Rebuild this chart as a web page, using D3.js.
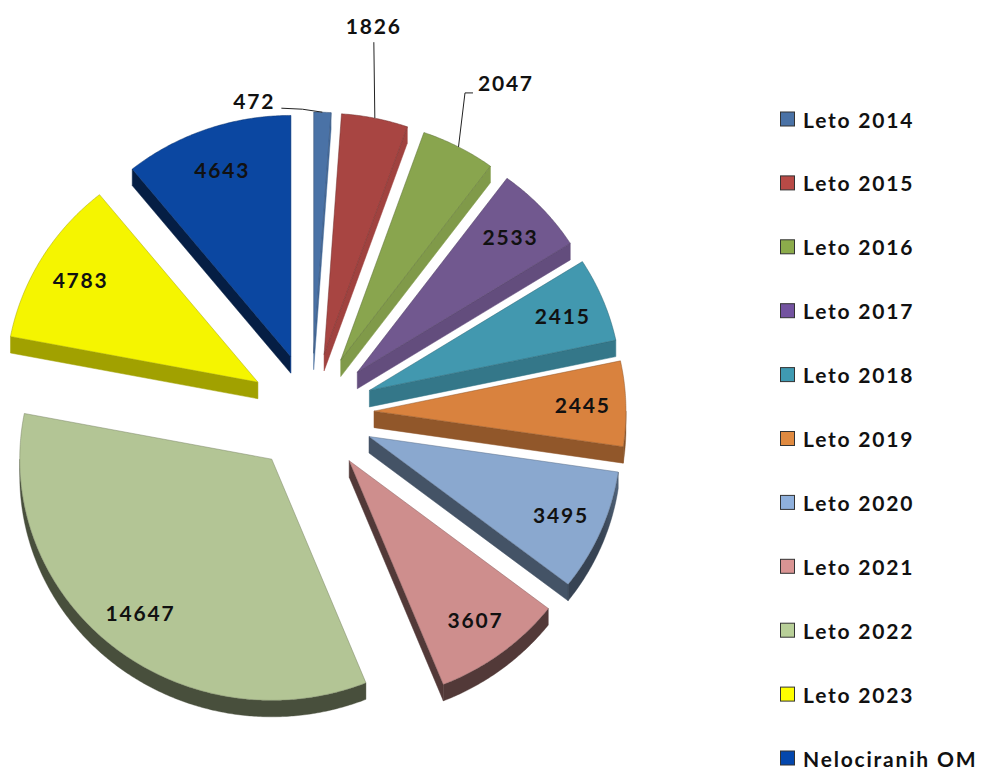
<!DOCTYPE html>
<html><head><meta charset="utf-8">
<script src="https://cdn.jsdelivr.net/npm/d3@7"></script>
<style>body{margin:0;background:#fff}svg{display:block}</style>
</head><body><svg id="c" width="982" height="769"></svg>
<script>
const categories = ["Leto 2014","Leto 2015","Leto 2016","Leto 2017","Leto 2018","Leto 2019","Leto 2020","Leto 2021","Leto 2022","Leto 2023","Nelociranih OM"];
const values = [472,1826,2047,2533,2415,2445,3495,3607,14647,4783,4643];
const colors = ["#4a72a6","#a84542","#89a54e","#71588f","#4298af","#d9823e","#8aa8cf","#ce8e8d","#b3c595","#f5f500","#0b47a1"];
const legendColors = ["#4a72a6","#b84a46","#8cab4b","#7353a0","#3f9ab2","#e08a40","#8fb0dc","#d99493","#b8cf98","#ffff00","#0447ad"];

const svg = d3.select("#c");
const defs = svg.append("defs");
const cx = 311.5, cy = 413, R = 252, S = 0.957, EXP = 62.5, DEPTH = 16.5;
const FONT = "Lato, 'Open Sans', sans-serif";
const LS = 1.8;
const DEG = Math.PI / 180;

const arcs = d3.pie().sort(null).value(d => d)(values);
const rScale = d3.scaleLinear().domain([0, 1]).range([0, R]);

function pt(a, rr, ex, ey, z) {
  return [cx + ex + rr * Math.sin(a), cy + ey - rr * S * Math.cos(a) + (z || 0)];
}
function mul(col, f) {
  const c = d3.rgb(col);
  return d3.rgb(c.r * f, c.g * f, c.b * f).formatHex();
}
// radial walls: lighter when facing right, dark when facing lower-left
function shadeSide(col, phi) {
  return mul(col, Math.max(0.4, 0.6 + 0.35 * Math.cos(phi - 110 * DEG)));
}
// curved outer wall: dark overall
function shadeOuter(col, phi) {
  const d = phi / DEG;
  return mul(col, Math.max(0.4, Math.min(0.62, 0.62 - (d - 98) * 0.015)));
}
const line = d3.line();

const slices = arcs.map((a, i) => {
  const mid = (a.startAngle + a.endAngle) / 2;
  const ex = EXP * Math.sin(mid), ey = -EXP * S * Math.cos(mid);
  return {a, i, mid, ex, ey};
});
const order = slices.slice().sort((p, q) => p.ey - q.ey);

const g = svg.append("g");
order.forEach(sl => {
  const {a, i, ex, ey} = sl;
  const a0 = a.startAngle, a1 = a.endAngle;
  const col = colors[i];
  const sg = g.append("g");
  const n = Math.max(2, Math.ceil((a1 - a0) / (Math.PI / 360)));
  const angs = d3.range(n + 1).map(k => a0 + (a1 - a0) * k / n);
  const apex = pt(0, 0, ex, ey);
  const wall = (ang, normal) => {
    if (Math.cos(normal) >= 0) return;
    const rim = pt(ang, rScale(1), ex, ey);
    const pts = [apex, rim, [rim[0], rim[1] + DEPTH], [apex[0], apex[1] + DEPTH]];
    const c = shadeSide(col, normal);
    sg.append("path").attr("d", line(pts) + "Z").attr("fill", c).attr("stroke", c).attr("stroke-width", 0.5);
  };
  wall(a0, a0 - Math.PI / 2);
  wall(a1, a1 + Math.PI / 2);
  const w0 = Math.max(a0, Math.PI / 2), w1 = Math.min(a1, 3 * Math.PI / 2);
  if (w1 > w0) {
    const m = Math.max(2, Math.ceil((w1 - w0) / (Math.PI / 360)));
    const wa = d3.range(m + 1).map(k => w0 + (w1 - w0) * k / m);
    const topPts = wa.map(t => pt(t, rScale(1), ex, ey));
    const botPts = wa.map(t => pt(t, rScale(1), ex, ey, DEPTH)).reverse();
    const x1 = topPts[0][0], x2 = topPts[topPts.length - 1][0];
    const gid = "wg" + i;
    const grad = defs.append("linearGradient").attr("id", gid).attr("gradientUnits", "userSpaceOnUse")
      .attr("x1", x1).attr("y1", 0).attr("x2", x2).attr("y2", 0);
    const span = (x2 - x1) || 1;
    wa.forEach((t, k) => {
      if (k % 4 !== 0 && k !== m) return;
      grad.append("stop").attr("offset", Math.min(1, Math.max(0, (topPts[k][0] - x1) / span)))
        .attr("stop-color", shadeOuter(col, t));
    });
    sg.append("path").attr("d", line(topPts.concat(botPts)) + "Z").attr("fill", `url(#${gid})`)
      .attr("stroke", shadeOuter(col, (w0 + w1) / 2)).attr("stroke-width", 0.4);
  }
  const top = [apex].concat(angs.map(t => pt(t, rScale(1), ex, ey)));
  sg.append("path").attr("d", line(top) + "Z").attr("fill", col)
    .attr("stroke", d3.rgb(col).darker(1.2)).attr("stroke-width", 0.6).attr("stroke-opacity", 0.8);
});

const outside = {
  0: {dx: -69, dy: -12, path: [[0, 0], [-20, -3], [-41, -4]]},
  1: {dx: -2, dy: -93, path: [[0, 0], [-1, -76]]},
  2: {dx: 46.5, dy: -64, path: [[0, 0], [6.5, -54], [14.5, -54]]}
};
const lab = svg.append("g").attr("font-family", FONT).attr("font-weight", 700).attr("font-size", 21)
  .attr("letter-spacing", LS).attr("fill", "#111");
slices.forEach(sl => {
  const {i, mid, ex, ey} = sl;
  let x, y;
  if (outside[i]) {
    const o = outside[i];
    const rim = pt(mid, rScale(1), ex, ey);
    lab.append("path").attr("d", line(o.path.map(p => [rim[0] + p[0], rim[1] + p[1]])))
      .attr("fill", "none").attr("stroke", "#222").attr("stroke-width", 1);
    x = rim[0] + o.dx; y = rim[1] + o.dy;
  } else {
    [x, y] = pt(mid, rScale(0.825), ex, ey);
  }
  lab.append("text").attr("x", x + LS / 2).attr("y", y)
    .attr("text-anchor", "middle").attr("dominant-baseline", "central").text(values[i]);
});

const leg = svg.append("g").attr("font-family", FONT).attr("font-weight", 700).attr("font-size", 21).attr("letter-spacing", LS);
const ly = d3.scalePoint().domain(categories).range([119, 758]);
categories.forEach((c, i) => {
  const y = ly(c);
  leg.append("rect").attr("x", 780.5).attr("y", y - 7).attr("width", 14).attr("height", 14)
    .attr("fill", legendColors[i]).attr("stroke", "#333").attr("stroke-width", 1);
  leg.append("text").attr("x", 803).attr("y", y).attr("dominant-baseline", "central").attr("fill", "#111").text(c);
});
</script></body></html>
